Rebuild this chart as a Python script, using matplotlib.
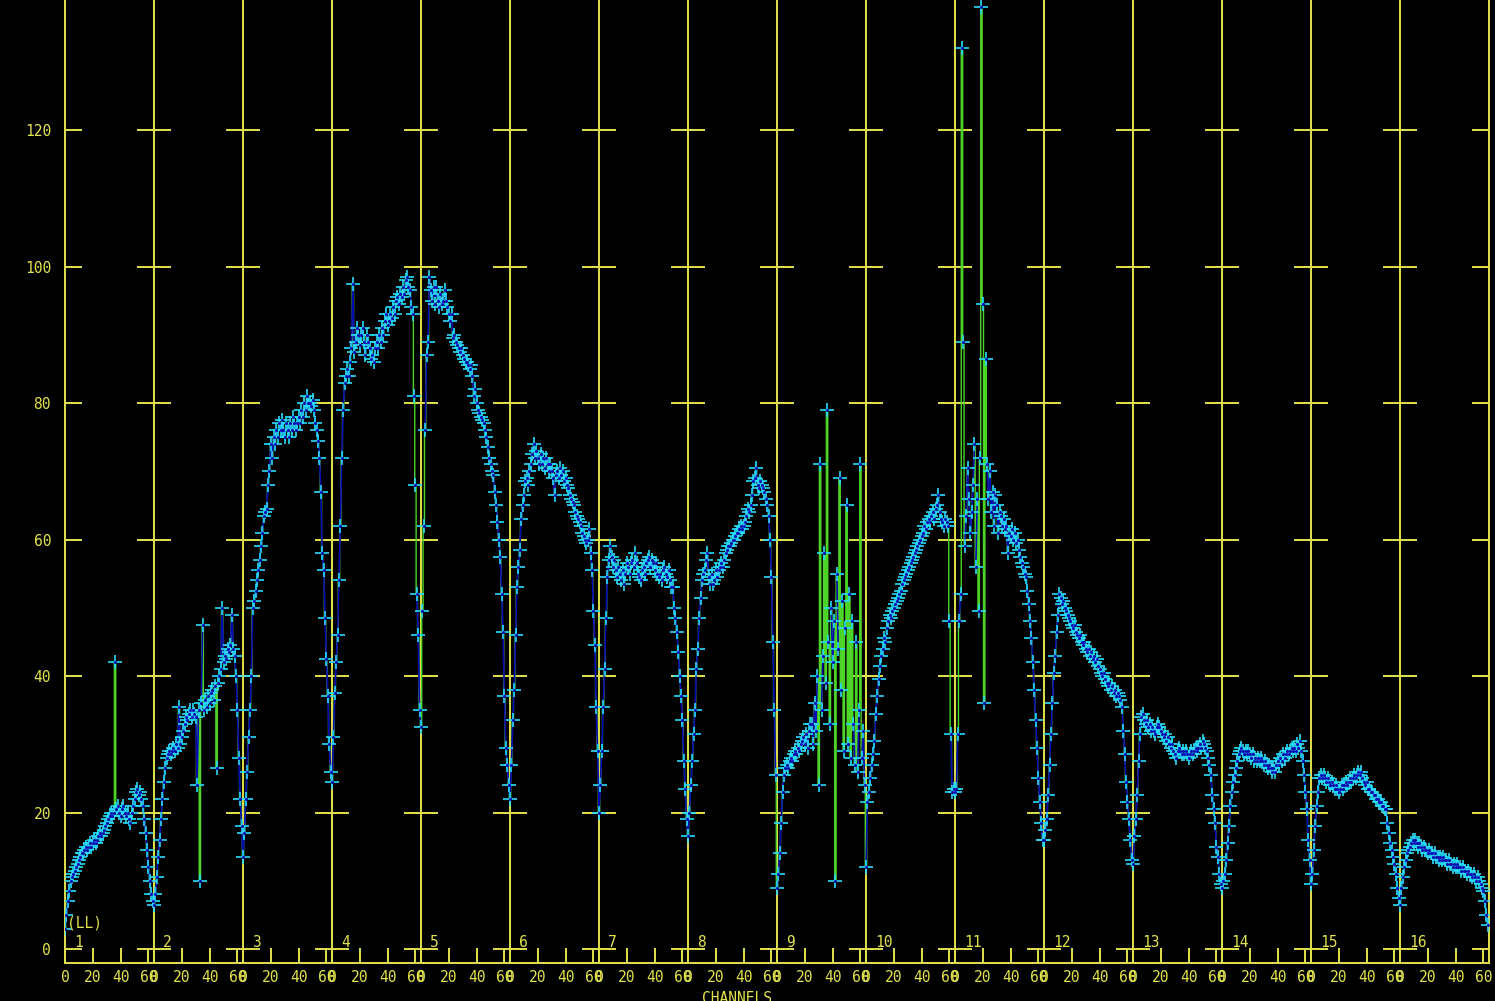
import matplotlib
matplotlib.use("Agg")
import matplotlib.pyplot as plt
from matplotlib.collections import LineCollection
import numpy as np

# 16 spectral windows x 64 channels, amplitude
w1 = [3, 5, 7, 8.5, 10, 10.5, 11, 11.5, 12, 12.5, 13, 13.5, 14, 14, 14.5, 15,
      14.5, 15, 15.5, 15, 15.5, 16, 15.5, 16, 16.5, 17, 16.5, 17, 17.5, 18, 18.5, 19,
      19.5, 20, 19.5, 20, 42, 20.5, 21, 20, 19.5, 20.5, 21, 20, 19.5, 20, 19, 18.5,
      20, 21, 22, 23, 23.5, 22.5, 23, 22, 21, 19, 17, 14.5, 12, 10, 8, 7]
w2 = [6.5, 8, 10.5, 13.5, 16, 19, 22, 24.5, 26.5, 28, 28.5, 29, 28.5, 29, 29.5, 29,
      30, 29.5, 35.5, 30, 31, 32, 33, 34, 33.5, 34.5, 35, 34, 35, 34.5, 34, 24,
      35, 10, 36, 47.5, 35, 36.5, 35.5, 37, 36, 37.5, 38, 36.5, 38.5, 26.5, 39, 40,
      41, 50, 42, 43, 42.5, 44, 43.5, 44.5, 49, 44, 43, 40, 35, 28, 22, 18]
w3 = [13.5, 17, 22, 26, 31, 35, 40, 50, 51, 52.5, 54, 55.5, 57, 59, 61, 63.5,
      64, 64.5, 68, 70, 74, 72, 75, 74, 76, 75, 77, 76, 77.5, 76, 75, 77,
      76, 75, 77, 76, 78, 77, 76, 77, 78, 77, 79, 78, 80, 79, 81, 80,
      80, 79.5, 80.5, 79, 77, 76, 74.5, 72, 67, 58, 55.5, 48.5, 42.5, 37, 30, 26]
w4 = [24.5, 31, 37.5, 42, 46, 54, 62, 72, 79, 83, 84, 85, 84, 86, 88, 97.5,
      87.5, 89, 91, 90, 88.5, 90, 91, 89, 87, 90, 89, 88, 86.5, 87, 86, 88,
      89, 88, 90, 89, 91, 90, 92, 93, 91.5, 92, 93, 92.5, 94, 93, 95, 95.5,
      94.5, 96, 95.5, 97, 96, 98, 98.5, 97, 96.5, 94, 93, 81, 68, 52, 46, 35]
w5 = [32.5, 49.5, 62, 76, 87, 89, 98.5, 96.5, 95, 97, 94.5, 97, 95, 94, 96, 94.5,
      95, 96.5, 95, 94, 93, 92, 93, 89.5, 90, 89, 88.5, 88, 87.5, 88, 87, 86.5,
      86, 86, 85.5, 85, 85.5, 84, 81, 82, 80, 79, 78.5, 78, 77.5, 77, 76, 75,
      73.5, 72, 71, 70, 69.5, 67, 65, 62.5, 60, 57.5, 52, 46.5, 37, 29.5, 27, 24]
w6 = [22, 27, 33.5, 38, 46, 53, 56, 58.5, 63, 65, 66.5, 68.5, 69, 68, 70, 71,
      72.5, 74, 72, 73, 72, 71, 72.5, 71, 72, 70.5, 72, 71, 70, 71, 70, 69,
      66.5, 69.5, 70, 69, 70.5, 69.5, 70, 68.5, 69, 68, 67.5, 66.5, 66, 65.5, 65, 64,
      63.5, 63, 62.5, 62, 61, 60.5, 60, 59.5, 60, 61.5, 58, 55.5, 49.5, 44.5, 35.5, 29]
w7 = [20, 24, 29, 35.5, 41, 48.5, 54.5, 57, 59, 57.5, 56, 57, 55.5, 54.5, 56, 55,
      54, 55.5, 53.5, 55, 56.5, 56, 55, 56.5, 57, 56, 58, 56.5, 55, 54.5, 54, 55.5,
      56, 55, 56.5, 57, 57.5, 56, 57, 56.5, 55.5, 56.5, 55, 54.5, 55, 54, 55.5, 56,
      55, 54.5, 55.5, 54, 53, 53, 50, 48.5, 46.5, 43.5, 40, 37, 33.5, 27.5, 23.5, 19]
w8 = [16.5, 20, 24, 27.5, 31.5, 35, 41, 44, 48.5, 51.5, 54, 55, 55.5, 57, 58, 54.5,
      53.5, 55, 53.5, 54, 55.5, 54.5, 55.5, 56, 56.5, 56, 57, 58, 58.5, 59, 59, 59.5,
      60, 60, 60.5, 61, 61, 61.5, 62, 61.5, 62, 62.5, 63.5, 64.5, 64, 65, 66.5, 68.5,
      69, 70.5, 68, 67.5, 68.5, 68, 67.5, 67, 66, 65, 63.5, 60, 54.5, 45, 35, 25.5]
w9 = [9, 11, 14, 18.5, 23, 25.5, 26.5, 27, 26.5, 27.5, 28, 27.5, 28.5, 29, 28.5, 29.5,
      29, 30, 30.5, 31, 30, 31.5, 29.5, 32, 33, 33, 30, 36, 32, 40, 24, 71,
      35, 43, 58, 39, 79, 45, 33, 50, 42, 48, 10, 55, 44, 69, 38, 51,
      29, 47, 65, 30, 52, 28, 48, 33, 27, 45, 26, 35, 71, 28, 32, 24]
w10 = [12, 21.5, 23, 25, 27, 28.5, 30.5, 34.5, 37, 39.5, 41.5, 43, 44, 45.5, 45, 47,
       48, 49, 48.5, 49.5, 50, 50.5, 51, 51.5, 52, 52.5, 53.5, 54, 54.5, 55, 55.5, 56,
       56.5, 57, 57.5, 58, 58.5, 59, 59.5, 60, 60.5, 61, 62, 61.5, 62.5, 63, 62.5, 63.5,
       64, 63, 64.5, 65, 66.5, 64, 63, 62.5, 62, 63, 62.5, 62, 48, 31.5, 23, 23.5]
w11 = [23, 23.5, 31.5, 48, 52, 132, 89, 59, 63.5, 70.5, 66, 61, 64, 68, 74, 56,
       66, 49.5, 72, 138, 94.5, 36, 86.5, 71, 66, 70, 64, 67, 62, 66.5, 65, 61,
       64, 63.5, 62, 63, 61.5, 62, 58, 61, 60.5, 61.5, 60, 61, 59.5, 60, 58.5, 57.5,
       56.5, 56, 55, 54.5, 52.5, 50.5, 48, 45.5, 42, 38, 33.5, 29.5, 25, 21.5, 18.5, 16]
w12 = [16, 17.5, 19, 22.5, 27, 31.5, 36, 40.5, 43, 46.5, 49, 52, 51.5, 50.5, 51, 50,
       49.5, 49, 48.5, 48, 47.5, 47, 47.5, 46.5, 46, 45.5, 46, 45, 44.5, 45, 44, 43.5,
       44, 43, 43.5, 42.5, 43, 42, 42.5, 41.5, 41, 40.5, 40, 40.5, 39.5, 39, 38.5, 39,
       38, 38.5, 37.5, 38, 37, 37.5, 37, 36.5, 35.5, 32, 28.5, 24.5, 21.5, 19, 16, 13]
w13 = [12.5, 16.5, 19, 22.5, 27.5, 31.5, 34, 34.5, 33.5, 33, 33.5, 32.5, 33, 32, 32.5, 32,
       31.5, 32.5, 33, 32.5, 32, 31.5, 31, 31.5, 30.5, 31, 30, 29.5, 30, 29, 28.5, 28,
       29, 29.5, 29, 28.5, 29, 28.5, 29, 28.5, 28, 28.5, 29, 28.5, 29, 29.5, 29, 29.5,
       30, 29.5, 30.5, 30, 29.5, 29, 28, 27, 25.5, 22.5, 20.5, 18.5, 15, 13.5, 11, 9.5]
w14 = [9, 10, 11, 13, 15.5, 18, 21, 23, 24.5, 25.5, 26.5, 27.5, 28.5, 29, 29.5, 29,
       28.5, 29, 28.5, 29, 28.5, 28, 28.5, 27.5, 28, 27.5, 28, 27.5, 28, 27.5, 27, 27.5,
       27, 26.5, 27, 26.5, 26, 26.5, 26, 27, 27.5, 27, 28, 27.5, 28.5, 28, 28.5, 29,
       28.5, 29, 29.5, 29, 29.5, 29, 30, 29.5, 30.5, 29, 27.5, 25.5, 23, 20.5, 16, 13]
w15 = [9.5, 11, 14.5, 18, 21, 23, 25, 25.5, 25, 25.5, 25, 24.5, 25, 24.5, 24, 24.5,
       24, 23.5, 24, 23.5, 23, 23.5, 24, 23.5, 24, 24.5, 24, 24.5, 25, 24.5, 25, 25.5,
       25, 25.5, 26, 25.5, 26, 25, 24.5, 24, 24.5, 23.5, 23.5, 23, 23, 22.5, 22.5, 22,
       22, 21.5, 21.5, 21, 21, 20.5, 20.5, 18.5, 17, 15.5, 14.5, 13.5, 12.5, 11, 9, 7.5]
w16 = [6.5, 9, 10.5, 12, 13, 14, 14.5, 15, 15.5, 16, 15.5, 16, 15.5, 15, 15.5, 15,
       14.5, 15, 14.5, 14.5, 14, 14.5, 14, 14, 13.5, 14, 13.5, 13.5, 13, 13.5, 13, 13.5,
       13, 13, 12.5, 13, 12.5, 12.5, 12, 12.5, 12, 12.5, 12, 12, 11.5, 12, 11.5, 11.5,
       11, 11.5, 11, 11, 10.5, 11, 10.5, 10, 10.5, 10, 9.5, 9, 8.5, 7, 5, 3.5]

windows = [w1, w2, w3, w4, w5, w6, w7, w8, w9, w10, w11, w12, w13, w14, w15, w16]
nchan = 64
chan_ticks = [0, 20, 40, 60]
y_ticks = [0, 20, 40, 60, 80, 100, 120, 140]

YEL = "#e2e24c"
MONO = "DejaVu Sans Mono"

amp = np.concatenate([np.asarray(w, float) for w in windows])
x = np.arange(amp.size)
nwin = len(windows)

fig = plt.figure(figsize=(14.95, 10.01), dpi=100, facecolor="black")
ax = fig.add_axes([65 / 1495, 38 / 1001, 1424 / 1495, 147.05 * 6.825 / 1001])
ax.set_facecolor("black")
ax.set_xlim(0, nwin * nchan)
ax.set_ylim(-2.05, 145)

# grid: window boundaries and the short crosses at each y tick
for k in range(1, nwin):
    ax.axvline(k * nchan, color=YEL, lw=1.4, zorder=1)
for yv in y_ticks:
    ax.hlines(yv, 0, 12, color=YEL, lw=1.4, zorder=1)
    ax.hlines(yv, nwin * nchan - 12, nwin * nchan, color=YEL, lw=1.4, zorder=1)
    for k in range(1, nwin):
        ax.hlines(yv, k * nchan - 12, k * nchan + 12, color=YEL, lw=1.4, zorder=1)

# data: green histogram, dark blue polyline on the small steps, cyan crosses
ax.plot(x, amp, drawstyle="steps-mid", color="#4cd426", lw=1.0, zorder=2)
pts = np.column_stack([x, amp])
segs = np.stack([pts[:-1], pts[1:]], axis=1)
small = np.abs(np.diff(amp)) < 12
ax.add_collection(LineCollection(segs[small], colors="#0608b0", lw=1.2, zorder=3))
ax.plot(x, amp, ls="none", marker="+", ms=10, mew=1.2, color="#28dcfc", zorder=4)
ax.plot(x, amp, ls="none", marker="o", ms=2.2, color="#0608b0", mec="none", zorder=5)

for s in ax.spines.values():
    s.set_color(YEL)
    s.set_linewidth(1.4)

xt = [k * nchan + c for k in range(nwin) for c in chan_ticks]
ax.set_xticks(xt)
ax.set_xticklabels([str(c) for _ in range(nwin) for c in chan_ticks],
                   family=MONO, fontsize=10.5, color=YEL)
ax.tick_params(axis="x", direction="in", length=10.5, width=1.4, color=YEL, pad=5)
ax.set_yticks(y_ticks)
ax.set_yticklabels([str(v) for v in y_ticks], family=MONO, fontsize=10.5, color=YEL)
ax.tick_params(axis="y", length=0, pad=10)

for k in range(nwin):
    ax.text(k * nchan + 6.5, 0.35, str(k + 1), family=MONO, fontsize=10.5,
            color=YEL, ha="left", va="baseline", zorder=6)
ax.text(1.5, 3.1, "(LL)", family=MONO, fontsize=10.5, color=YEL,
        ha="left", va="baseline", zorder=6)
fig.text(737 / 1495, 10 / 1001, "CHANNELS", family=MONO, fontsize=10.5,
         color=YEL, ha="center", va="top")

fig.savefig("out.png", dpi=100, facecolor="black")
